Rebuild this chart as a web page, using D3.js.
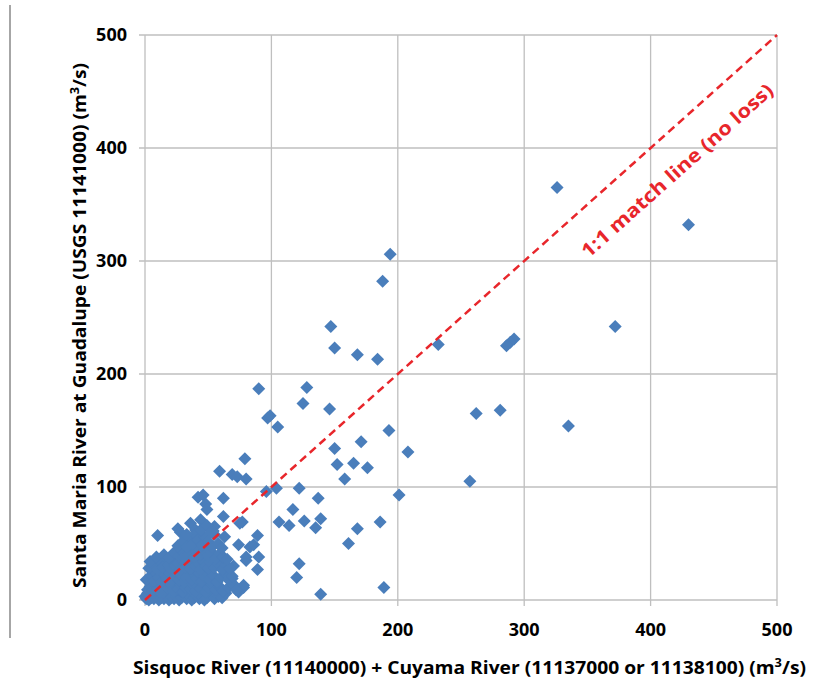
<!DOCTYPE html>
<html>
<head>
<meta charset="utf-8">
<script src="https://cdn.jsdelivr.net/npm/d3@7"></script>
<style>
  body { margin: 0; background: #fff; }
  svg { display: block; font-family: "Open Sans", "Liberation Sans", sans-serif; }
</style>
</head>
<body>
<div id="chart"></div>
<script>
// Axis ticks
const xTicks = [0, 100, 200, 300, 400, 500];
const yTicks = [0, 100, 200, 300, 400, 500];

// Sisquoc + Cuyama flow (x) vs Santa Maria at Guadalupe flow (y), m3/s
const scattered = [
  [326, 365], [430, 332], [194, 306], [188, 282], [147, 242], [372, 242],
  [292, 231], [289, 228], [286, 225], [232, 226], [150, 223], [168, 217],
  [184, 213], [90, 187], [128, 188], [125, 174], [146, 169], [97, 161],
  [99, 163], [105, 153], [193, 150], [171, 140], [208, 131], [150, 134],
  [335, 154], [262, 165], [281, 168], [152, 120], [165, 121], [176, 117],
  [158, 107], [257, 105], [201, 93], [79, 125], [59, 114], [69, 111],
  [73, 109], [80, 107], [96, 96], [104, 99], [122, 99], [137, 90],
  [117, 80], [106, 69], [114, 66], [126, 70], [139, 72], [135, 64],
  [186, 69], [168, 63], [161, 50], [122, 32], [120, 20], [139, 5],
  [189, 11], [77, 69], [89, 57], [83, 47], [80, 35], [89, 27], [78, 11],
  [62, 90], [42, 91], [46, 93], [48, 85], [49, 80], [36, 68], [75, 68],
  [62, 74], [44, 71], [55, 65], [63, 56], [74, 49], [86, 49], [80, 38],
  [90, 38], [70, 30], [69, 19], [78, 13], [74, 7], [10, 57], [26, 63],
  [54, 61], [40, 62], [28, 60]
];

const cluster = [
  [1, 1], [3, 0], [5, 2], [7, 1], [9, 3], [11, 0], [13, 2], [15, 1], [17, 4],
  [19, 0], [21, 2], [23, 1], [25, 3], [27, 0], [29, 2], [31, 5], [33, 1],
  [35, 3], [37, 0], [39, 2], [41, 4], [43, 1], [45, 3], [47, 0], [49, 2],
  [52, 5], [55, 1], [58, 3], [61, 2], [64, 6], [2, 6], [0, 3],
  [2, 9], [4, 12], [6, 8], [8, 14], [10, 10], [12, 7], [14, 13], [16, 9],
  [18, 11], [20, 15], [22, 8], [24, 12], [26, 10], [28, 14], [30, 7],
  [32, 11], [34, 15], [36, 9], [38, 13], [40, 8], [42, 12], [44, 10],
  [46, 14], [48, 7], [50, 11], [53, 13], [56, 9], [59, 12], [62, 8],
  [66, 11], [70, 14], [72, 9],
  [1, 18], [5, 22], [7, 17], [9, 24], [11, 20], [13, 16], [15, 23], [17, 19],
  [19, 25], [21, 17], [23, 21], [25, 24], [27, 18], [29, 22], [31, 16],
  [33, 20], [35, 25], [37, 18], [39, 23], [41, 19], [43, 24], [45, 17],
  [47, 21], [49, 25], [51, 18], [54, 22], [57, 16], [60, 20], [63, 24],
  [66, 18], [69, 21],
  [3, 28], [6, 32], [10, 27], [12, 34], [14, 29], [18, 31], [20, 28],
  [22, 35], [24, 30], [26, 33], [28, 27], [30, 34], [32, 29], [34, 32],
  [36, 28], [38, 35], [40, 30], [42, 33], [44, 27], [46, 34], [48, 30],
  [50, 28], [52, 33], [55, 29], [58, 32], [61, 27], [64, 31], [67, 28],
  [4, 34], [9, 38], [15, 40], [19, 37], [23, 42], [27, 39], [29, 44],
  [31, 38], [35, 41], [37, 45], [39, 38], [41, 43], [44, 40], [47, 44],
  [50, 39], [53, 42], [56, 37], [59, 41], [62, 38], [65, 36],
  [26, 48], [30, 52], [33, 47], [36, 55], [38, 50], [40, 58], [42, 53],
  [45, 49], [47, 56], [50, 52], [53, 47], [55, 58], [58, 50], [61, 46],
  [44, 62], [49, 66], [52, 60], [33, 58]
];

const points = scattered.concat(cluster);

const matchLine = [[0, 0], [500, 500]];
const matchLabel = "1:1 match line (no loss)";

const width = 815, height = 692;
const margin = { top: 35, right: 38, bottom: 92, left: 145 };

const svg = d3.select("#chart").append("svg")
  .attr("width", width)
  .attr("height", height);

const x = d3.scaleLinear().domain([0, 500]).range([margin.left, width - margin.right]);
const y = d3.scaleLinear().domain([0, 500]).range([height - margin.bottom, margin.top]);

// frame line at the left edge of the figure
svg.append("line")
  .attr("x1", 10).attr("x2", 10)
  .attr("y1", 5).attr("y2", 638)
  .attr("stroke", "#a6a6a6")
  .attr("stroke-width", 2);

// gridlines (extend past the axes as tick marks)
svg.append("g").selectAll("line")
  .data(xTicks)
  .join("line")
  .attr("x1", d => x(d)).attr("x2", d => x(d))
  .attr("y1", y(500)).attr("y2", y(0) + 6)
  .attr("stroke", "#bfbfbf")
  .attr("stroke-width", 1.3);

svg.append("g").selectAll("line")
  .data(yTicks)
  .join("line")
  .attr("x1", x(0) - 6).attr("x2", x(500))
  .attr("y1", d => y(d)).attr("y2", d => y(d))
  .attr("stroke", "#bfbfbf")
  .attr("stroke-width", 1.3);

// tick labels
svg.append("g").selectAll("text")
  .data(xTicks)
  .join("text")
  .attr("x", d => x(d))
  .attr("y", 636)
  .attr("text-anchor", "middle")
  .attr("font-size", 18)
  .attr("font-weight", 700)
  .attr("fill", "#000")
  .text(d => d);

svg.append("g").selectAll("text")
  .data(yTicks)
  .join("text")
  .attr("x", 127)
  .attr("y", d => y(d))
  .attr("dy", "0.36em")
  .attr("text-anchor", "end")
  .attr("font-size", 18)
  .attr("font-weight", 700)
  .attr("fill", "#000")
  .text(d => d);

// points
const diamond = "M0,-6.5L6.5,0L0,6.5L-6.5,0Z";
svg.append("g").selectAll("path")
  .data(points)
  .join("path")
  .attr("d", diamond)
  .attr("transform", d => `translate(${x(d[0])},${y(d[1])})`)
  .attr("fill", "#4a7ebb");

// 1:1 match line
svg.append("line")
  .attr("x1", x(matchLine[0][0])).attr("y1", y(matchLine[0][1]))
  .attr("x2", x(matchLine[1][0])).attr("y2", y(matchLine[1][1]))
  .attr("stroke", "#e8262b")
  .attr("stroke-width", 2.5)
  .attr("stroke-dasharray", "8,5");

const angle = Math.atan2(y(500) - y(0), x(500) - x(0)) * 180 / Math.PI;
svg.append("text")
  .attr("transform", `translate(${x(421)},${y(380)}) rotate(${angle})`)
  .attr("dy", "0.35em")
  .attr("text-anchor", "middle")
  .attr("font-size", 19)
  .attr("font-weight", 700)
  .attr("fill", "#e8262b")
  .attr("textLength", 250)
  .attr("lengthAdjust", "spacingAndGlyphs")
  .text(matchLabel);

// axis titles
const xTitle = svg.append("text")
  .attr("x", 133)
  .attr("y", 674)
  .attr("font-size", 18)
  .attr("font-weight", 700)
  .attr("fill", "#000")
  .attr("textLength", 673)
  .attr("lengthAdjust", "spacingAndGlyphs");
xTitle.append("tspan").text("Sisquoc River (11140000) + Cuyama River (11137000 or 11138100) (m");
xTitle.append("tspan").attr("dy", -7).attr("font-size", 12).text("3");
xTitle.append("tspan").attr("dy", 7).text("/s)");

const yTitle = svg.append("text")
  .attr("transform", "translate(86,588) rotate(-90)")
  .attr("font-size", 18)
  .attr("font-weight", 700)
  .attr("fill", "#000")
  .attr("textLength", 525)
  .attr("lengthAdjust", "spacingAndGlyphs");
yTitle.append("tspan").text("Santa Maria River at Guadalupe (USGS 11141000) (m");
yTitle.append("tspan").attr("dy", -7).attr("font-size", 12).text("3");
yTitle.append("tspan").attr("dy", 7).text("/s)");
</script>
</body>
</html>
